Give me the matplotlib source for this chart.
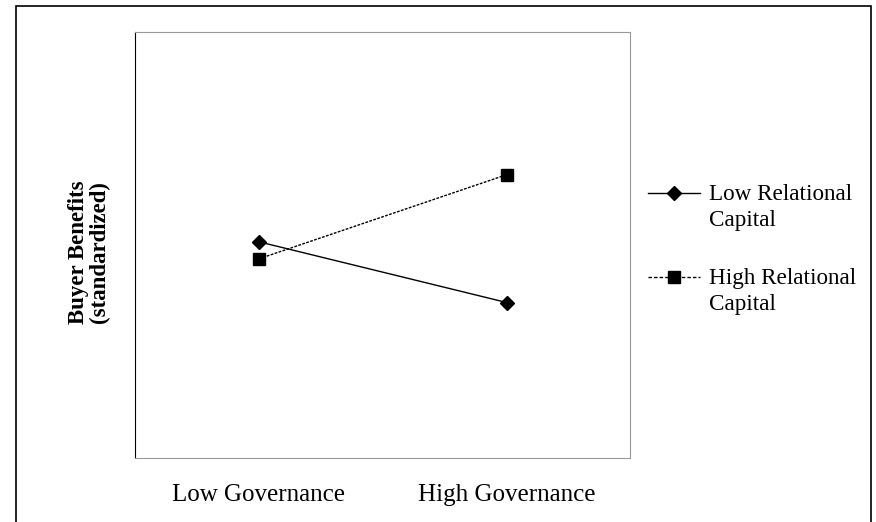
import matplotlib
matplotlib.use("Agg")
import matplotlib.pyplot as plt
from matplotlib.lines import Line2D
from matplotlib.patches import Rectangle

# interaction plot: buyer benefits by governance level and relational capital
governance = ["Low Governance", "High Governance"]
low_rc = [0.03, -0.54]
high_rc = [-0.13, 0.66]
series_names = ["Low Relational\nCapital", "High Relational\nCapital"]

plt.rcParams["font.family"] = ["Liberation Serif", "DejaVu Serif"]

W, H = 876, 522
fig = plt.figure(figsize=(W / 100, H / 100), dpi=100)
ax = fig.add_axes([135 / W, (H - 458) / H, 495.5 / W, 426 / H])

x = list(range(len(governance)))
ax.plot(x, low_rc, color="black", lw=1.0, ls="-", marker="D", ms=7, mfc="black")
ax.plot(x, high_rc, color="black", lw=1.0, ls=(0, (2, 1)), marker="s", ms=8, mfc="black")

ax.set_xlim(-0.5, 1.5)
ax.set_ylim(-2, 2)
ax.set_xticks(x)
ax.set_xticklabels(governance, fontsize=18)
ax.tick_params(axis="x", length=0, pad=19)
ax.set_yticks([])
for s in ["top", "right", "bottom"]:
    ax.spines[s].set_color("#999999")
ax.spines["left"].set_color("black")
ax.set_ylabel("Buyer Benefits\n(standardized)", fontsize=16.5, fontweight="bold",
              linespacing=0.95, va="center")
ax.yaxis.set_label_coords((89 - 135) / 495.5, (458 - 252) / 426)

# legend drawn by hand so the sample lines up with the first text line
styles = [("-", "D", 7), ((0, (2.5, 1.5)), "s", 9)]
rows = [193, 277]
for (ls, mk, ms), yy, name in zip(styles, rows, series_names):
    fy = 1 - yy / H
    fig.add_artist(Line2D([648 / W, 700 / W], [fy, fy], color="black", lw=1.0, ls=ls))
    fig.add_artist(Line2D([674 / W], [fy], marker=mk, ms=ms, color="black", ls="none"))
    fig.text(709 / W, fy + 9 / H, name, fontsize=16.7, va="top", ha="left",
             linespacing=1.32)

# outer border
fig.add_artist(Rectangle((16 / W, -0.05), (871 - 16) / W, 1 - 6 / H + 0.05,
                         transform=fig.transFigure, fill=False, ec="black", lw=1.2))

fig.savefig("out.png", dpi=100)
